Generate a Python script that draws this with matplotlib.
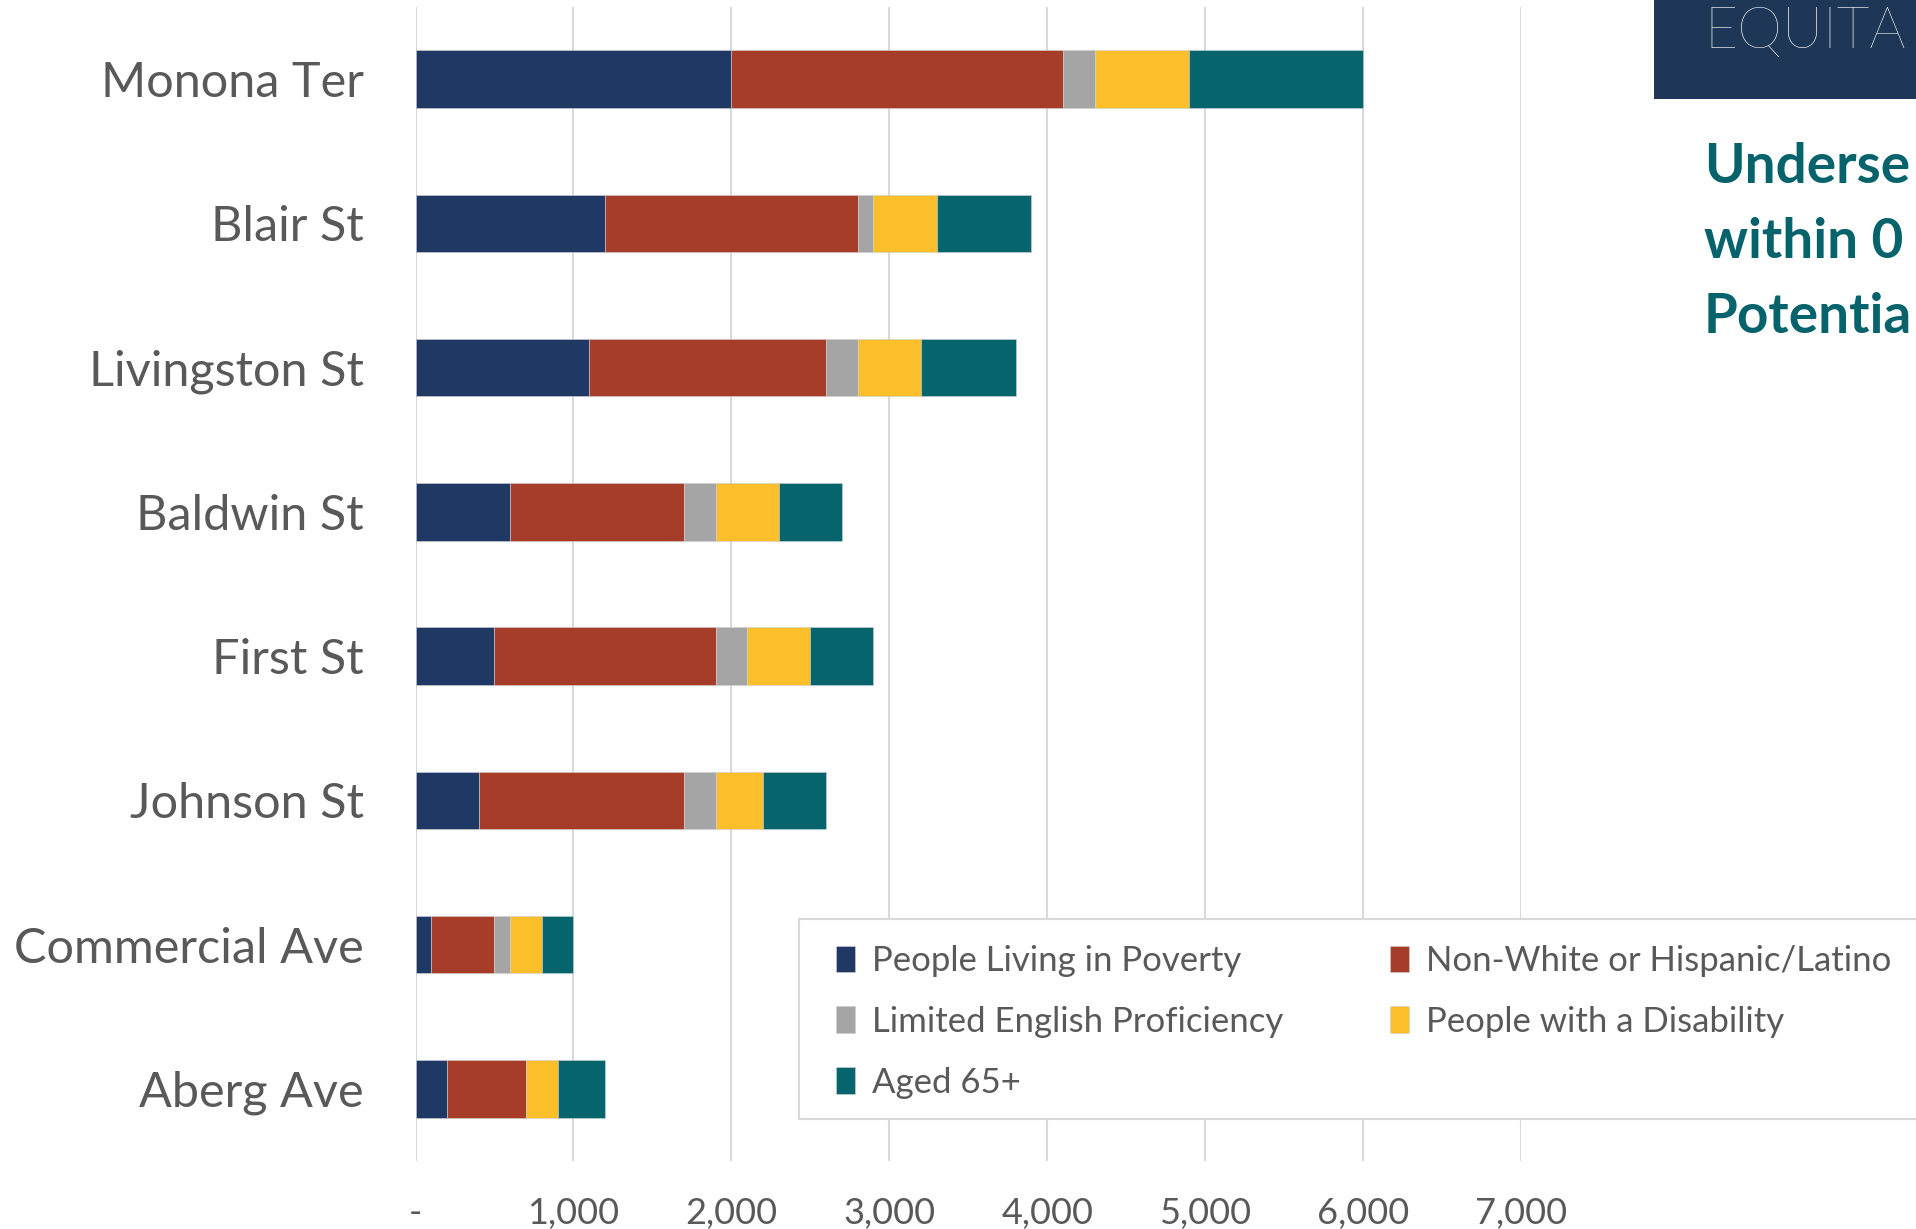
import numpy as np
import matplotlib.pyplot as plt
from matplotlib.patches import Rectangle
from matplotlib.ticker import FuncFormatter

# stations, top to bottom as shown
stations = ['Monona Ter', 'Blair St', 'Livingston St', 'Baldwin St',
            'First St', 'Johnson St', 'Commercial Ave', 'Aberg Ave']

series_names = ['People Living in Poverty', 'Non-White or Hispanic/Latino',
                'Limited English Proficiency', 'People with a Disability',
                'Aged 65+']

poverty    = [2000, 1200, 1100, 600, 500, 400, 100, 200]
non_white  = [2100, 1600, 1500, 1100, 1400, 1300, 400, 500]
lep        = [200, 100, 200, 200, 200, 200, 100, 0]
disability = [600, 400, 400, 400, 400, 300, 200, 200]
aged_65    = [1100, 600, 600, 400, 400, 400, 200, 300]

colors = ['#203864', '#A63D28', '#A5A5A5', '#FBBF2B', '#05646C']
text_grey = '#595959'
font = 'Lato'

fig = plt.figure(figsize=(19.16, 12.29), dpi=100)
W, H = 1916, 1229
ax = fig.add_axes([415.5 / W, 1 - 1161 / H, (1521 - 415.5) / W, (1161 - 7) / H])

y = np.arange(len(stations))
left = np.zeros(len(stations))
handles = []
for vals, name, c in zip([poverty, non_white, lep, disability, aged_65], series_names, colors):
    b = ax.barh(y, vals, left=left, height=0.4, color=c, edgecolor='#d0d0d0',
                linewidth=0.4, label=name, zorder=3)
    handles.append(b)
    left += np.array(vals)

ax.set_ylim(len(stations) - 0.5, -0.5)
ax.set_xlim(0, 7000)
ax.set_xticks(np.arange(0, 7001, 1000))
ax.xaxis.set_major_formatter(FuncFormatter(lambda v, p: '-' if v == 0 else f'{v:,.0f}'))
ax.set_yticks(y)
ax.set_yticklabels(stations, fontsize=35, color=text_grey, family=font)
ax.tick_params(axis='y', length=0, pad=37)
ax.tick_params(axis='x', length=0, pad=26, labelsize=26, labelcolor=text_grey)
for lab in ax.get_xticklabels():
    lab.set_family(font)
ax.grid(axis='x', color='#D9D9D9', linewidth=1.5, zorder=0)
for s in ax.spines.values():
    s.set_visible(False)

# legend box, runs off the right edge
fig.patches.append(Rectangle((799 / W, 1 - 1119 / H), 1.0, 200 / H, transform=fig.transFigure,
                             facecolor='white', edgecolor='#D9D9D9', linewidth=1.5, zorder=5))
order = [0, 2, 4, 1, 3]
leg = fig.legend([handles[i] for i in order], [series_names[i] for i in order],
                 ncol=2, loc='upper left', bbox_to_anchor=(822 / W, 1 - 931 / H),
                 frameon=False, prop={'family': font, 'size': 25},
                 handlelength=0.55, handleheight=0.8, handletextpad=0.5,
                 columnspacing=3.05, labelspacing=0.83, borderaxespad=0)
leg.set_zorder(6)
for t in leg.get_texts():
    t.set_color(text_grey)

# slide title block on the right
fig.patches.append(Rectangle((1654 / W, 1 - 99 / H), 1.0, 99 / H, transform=fig.transFigure,
                             facecolor='#1F3756', edgecolor='none', zorder=5))
fig.text(1704 / W, 1 - 48 / H, 'EQUITA', color='white', fontsize=41, family=font,
         fontweight='light', va='baseline', zorder=7)
for txt, base in zip(['Underse', 'within 0', 'Potentia'], [183, 258, 333]):
    fig.text(1704 / W, 1 - base / H, txt, color='#07636B', fontsize=39.5, family=font,
             fontweight='bold', va='baseline', zorder=7)

fig.savefig('out.png', dpi=100)
